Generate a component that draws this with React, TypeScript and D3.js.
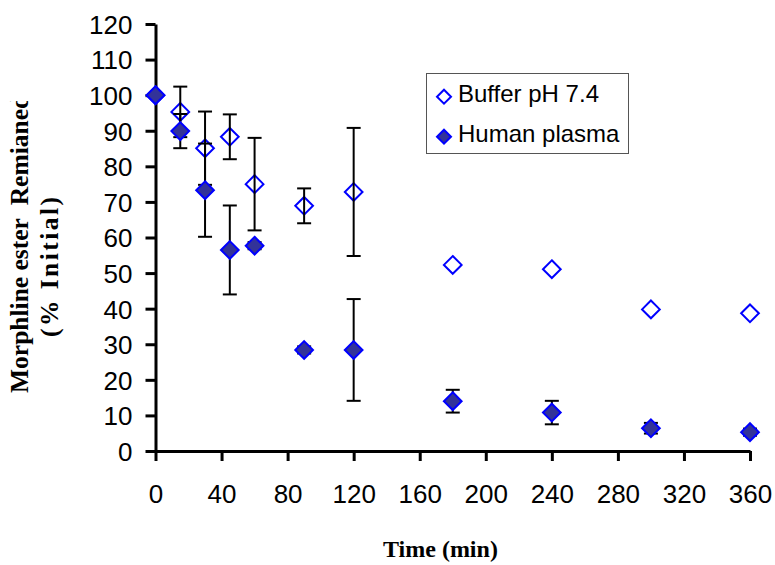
import * as d3 from "d3";
import React, { useEffect, useRef } from "react";

const times = [0, 15, 30, 45, 60, 90, 120, 180, 240, 300, 360];
const bufferMean = [100, 95.3, 85.1, 88.3, 75.0, 68.9, 72.8, 52.3, 51.1, 39.8, 38.7];
const bufferErr = [0, 7.1, 10.3, 6.3, 13.0, 4.9, 18.0, 0, 0, 0, 0];
const plasmaMean = [100, 89.9, 73.3, 56.5, 57.7, 28.4, 28.4, 14.0, 10.8, 6.4, 5.3];
const plasmaErr = [0, 4.8, 13.1, 12.5, 1.0, 1.0, 14.3, 3.2, 3.3, 1.5, 1.0];
const xTicks = [0, 40, 80, 120, 160, 200, 240, 280, 320, 360];
const yTicks = [0, 10, 20, 30, 40, 50, 60, 70, 80, 90, 100, 110, 120];
const seriesNames = ["Buffer pH 7.4", "Human plasma"];

const App = () => {
    const ref = useRef(null);

    useEffect(() => {
        const svg = d3.select(ref.current);
        svg.selectAll("*").remove();

        const x = d3.scaleLinear().domain([0, 360]).range([155.5, 750]);
        const y = d3.scaleLinear().domain([0, 120]).range([451, 24]);
        const sans = "'Liberation Sans', Arial, sans-serif";
        const serif = "'Liberation Serif', 'Times New Roman', serif";

        // axes
        const yAxis = svg.append("g")
            .attr("transform", "translate(" + x(0) + ",0)")
            .call(d3.axisLeft(y).tickValues(yTicks).tickSize(10).tickSizeOuter(0).tickPadding(13));
        const xAxis = svg.append("g")
            .attr("transform", "translate(0," + y(0) + ")")
            .call(d3.axisBottom(x).tickValues(xTicks).tickSize(10).tickSizeOuter(0).tickPadding(24));

        [yAxis, xAxis].forEach(function (g) {
            g.select(".domain").attr("stroke", "#000").attr("stroke-width", 3);
            g.selectAll(".tick line").attr("stroke", "#000").attr("stroke-width", 3);
            g.selectAll(".tick text")
                .attr("fill", "#000")
                .style("font-family", sans)
                .style("font-size", "26px");
        });
        yAxis.selectAll(".tick text").attr("dy", "0.36em");

        const diamond = d3.symbol().type(d3.symbolDiamond2);
        const bigDiamond = diamond.size(200)();
        const smallDiamond = diamond.size(125)();

        // buffer markers
        svg.append("g").selectAll("path")
            .data(times)
            .enter().append("path")
            .attr("d", bigDiamond)
            .attr("transform", (d, i) => "translate(" + x(d) + "," + y(bufferMean[i]) + ")")
            .attr("fill", "#fff")
            .attr("stroke", "#0000ff")
            .attr("stroke-width", 2);

        // error bars
        const drawErr = (means, errs) => {
            const g = svg.append("g").attr("stroke", "#000").attr("stroke-width", 2);
            times.forEach(function (t, i) {
                if (errs[i] <= 0) return;
                const cx = x(t), top = y(means[i] + errs[i]), bot = y(means[i] - errs[i]);
                g.append("line").attr("x1", cx).attr("x2", cx).attr("y1", top).attr("y2", bot);
                g.append("line").attr("x1", cx - 7).attr("x2", cx + 7).attr("y1", top).attr("y2", top);
                g.append("line").attr("x1", cx - 7).attr("x2", cx + 7).attr("y1", bot).attr("y2", bot);
            });
        };
        drawErr(bufferMean, bufferErr);
        drawErr(plasmaMean, plasmaErr);

        // plasma markers
        svg.append("g").selectAll("path")
            .data(times)
            .enter().append("path")
            .attr("d", bigDiamond)
            .attr("transform", (d, i) => "translate(" + x(d) + "," + y(plasmaMean[i]) + ")")
            .attr("fill", "#333399")
            .attr("stroke", "#0000ff")
            .attr("stroke-width", 2);

        // legend
        const legend = svg.append("g");
        legend.append("rect")
            .attr("x", 426.5).attr("y", 73.5).attr("width", 202).attr("height", 80)
            .attr("fill", "#fff").attr("stroke", "#555").attr("stroke-width", 1);
        seriesNames.forEach(function (name, i) {
            const ly = 96.7 + i * 40;
            legend.append("path")
                .attr("d", smallDiamond)
                .attr("transform", "translate(444," + ly + ")")
                .attr("fill", i === 0 ? "#fff" : "#333399")
                .attr("stroke", "#0000ff")
                .attr("stroke-width", 2);
            legend.append("text")
                .attr("x", 458).attr("y", ly + 5)
                .text(name)
                .style("font-family", sans)
                .style("font-size", "24px");
        });

        // axis titles
        svg.append("text")
            .attr("x", 383).attr("y", 557)
            .text("Time (min)")
            .style("font-family", serif)
            .style("font-weight", "bold")
            .style("font-size", "24px");

        // excel clips the y title at the top of its box
        const clip = svg.append("clipPath").attr("id", "ytitle-clip");
        clip.append("rect").attr("x", 0).attr("y", 101).attr("width", 90).attr("height", 465);

        svg.append("g")
            .attr("clip-path", "url(#ytitle-clip)")
            .append("text")
            .attr("transform", "translate(28,393) rotate(-90)")
            .text("Morphline ester\u00a0 Remianed")
            .style("font-family", serif)
            .style("font-weight", "bold")
            .style("font-size", "25.5px");

        svg.append("text")
            .attr("transform", "translate(58,267) rotate(-90)")
            .attr("text-anchor", "middle")
            .attr("textLength", 140)
            .attr("lengthAdjust", "spacing")
            .text("(% Initial)")
            .style("font-family", serif)
            .style("font-weight", "bold")
            .style("font-size", "25.5px");
    }, []);

    return (
        <svg ref={ref} width={775} height={565}
             style={{ position: "absolute", left: 0, top: 0, background: "#fff" }} />
    );
};

export default App;
